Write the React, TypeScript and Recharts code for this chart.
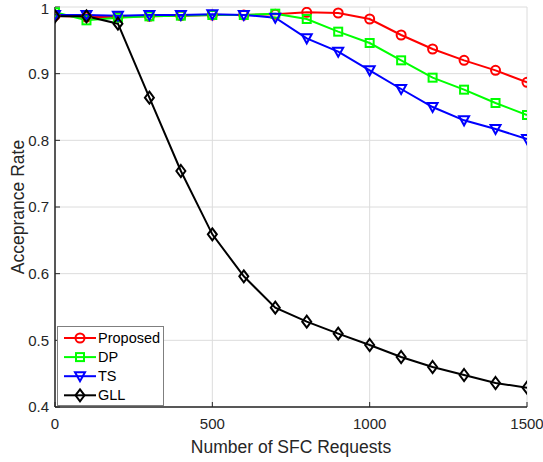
import React from 'react';
import { LineChart, Line, XAxis, YAxis, CartesianGrid, Legend } from 'recharts';

const xValues = [0, 100, 200, 300, 400, 500, 600, 700, 800, 900, 1000, 1100, 1200, 1300, 1400, 1500];
const proposed = [0.987, 0.985, 0.985, 0.986, 0.987, 0.988, 0.988, 0.989, 0.992, 0.991, 0.982, 0.958, 0.937, 0.92, 0.905, 0.887];
const dp = [0.992, 0.98, 0.984, 0.986, 0.987, 0.988, 0.988, 0.99, 0.982, 0.963, 0.946, 0.92, 0.894, 0.876, 0.856, 0.838];
const ts = [0.988, 0.988, 0.987, 0.988, 0.988, 0.989, 0.988, 0.984, 0.953, 0.933, 0.905, 0.877, 0.85, 0.83, 0.817, 0.802];
const gll = [0.986, 0.986, 0.975, 0.864, 0.754, 0.659, 0.596, 0.549, 0.528, 0.51, 0.493, 0.475, 0.46, 0.448, 0.436, 0.429];
const xTicks = [0, 500, 1000, 1500];
const yTicks = [0.4, 0.5, 0.6, 0.7, 0.8, 0.9, 1];

const seriesNames = ['Proposed', 'DP', 'TS', 'GLL'];
const seriesKeys = ['proposed', 'dp', 'ts', 'gll'];
const seriesColors = ['#FF0000', '#00FF00', '#0000FF', '#000000'];
const seriesShapes = ['circle', 'square', 'triangle', 'diamond'];

const data = xValues.map((x, i) => ({ x, proposed: proposed[i], dp: dp[i], ts: ts[i], gll: gll[i] }));

const FONT = '"Liberation Sans", Arial, Helvetica, sans-serif';

function Marker({ shape, cx, cy, color }: { shape: string; cx: number; cy: number; color: string }) {
  const common = { fill: 'none', stroke: color, strokeWidth: 2 };
  if (shape === 'circle') return <circle cx={cx} cy={cy} r={4.5} {...common} />;
  if (shape === 'square') return <rect x={cx - 4} y={cy - 4} width={8} height={8} {...common} />;
  if (shape === 'triangle')
    return <polygon points={`${cx - 5},${cy - 4} ${cx + 5},${cy - 4} ${cx},${cy + 5}`} {...common} />;
  return <polygon points={`${cx},${cy - 6} ${cx + 4.5},${cy} ${cx},${cy + 6} ${cx - 4.5},${cy}`} {...common} />;
}

const makeDot = (shape: string, color: string) => (props: any) => {
  const { cx, cy, index } = props;
  if (cx == null || cy == null) return <g key={index} />;
  return <Marker key={index} shape={shape} cx={cx} cy={cy} color={color} />;
};

function LegendContent() {
  return (
    <div
      style={{
        width: 107,
        height: 80,
        border: '1px solid #7f7f7f',
        background: '#fff',
        boxSizing: 'border-box',
        fontFamily: FONT,
        fontSize: 14,
        color: '#000',
      }}
    >
      <svg width={105} height={78} style={{ display: 'block' }}>
        {seriesNames.map((name, i) => {
          const y = 11 + i * 19.1;
          return (
            <g key={name}>
              <line x1={6} x2={38} y1={y} y2={y} stroke={seriesColors[i]} strokeWidth={2} />
              <Marker shape={seriesShapes[i]} cx={22} cy={y} color={seriesColors[i]} />
              <text x={40} y={y + 5} fontSize={14.5} fontFamily={FONT} fill="#000">
                {name}
              </text>
            </g>
          );
        })}
      </svg>
    </div>
  );
}

export default function App() {
  const tickStyle = { fontSize: 15, fontFamily: FONT, fill: '#262626' };
  return (
    <div style={{ position: 'absolute', left: 0, top: 0, background: '#fff' }}>
      <LineChart width={543} height={462} data={data} margin={{ top: 7, right: 16, bottom: 0, left: 0 }}>
        <CartesianGrid xAxisId="bottom" yAxisId="left" stroke="#dcdcdc" strokeWidth={1} />
        <XAxis
          xAxisId="bottom"
          type="number"
          dataKey="x"
          domain={[0, 1500]}
          ticks={xTicks}
          allowDataOverflow
          height={55}
          tickSize={-5}
          tickMargin={16}
          tick={tickStyle}
          stroke="#262626"
          axisLine={{ stroke: '#262626', strokeWidth: 1.5 }}
          tickLine={{ stroke: '#262626' }}
          label={{ value: 'Number of SFC Requests', position: 'insideBottom', offset: 9, style: { fontSize: 17.5, fontFamily: FONT, fill: '#262626' } }}
        />
        <XAxis
          xAxisId="top"
          orientation="top"
          type="number"
          dataKey="x"
          domain={[0, 1500]}
          ticks={xTicks}
          height={0}
          tickSize={-5}
          tick={false}
          axisLine={{ stroke: '#262626', strokeWidth: 1.5 }}
          tickLine={{ stroke: '#262626' }}
        />
        <YAxis
          yAxisId="left"
          type="number"
          domain={[0.4, 1]}
          ticks={yTicks}
          allowDataOverflow
          width={55}
          tickSize={-5}
          tickMargin={11}
          tick={tickStyle}
          tickFormatter={(v: number) => String(Number(v.toFixed(1)))}
          axisLine={{ stroke: '#262626', strokeWidth: 1.5 }}
          tickLine={{ stroke: '#262626' }}
          label={{ value: 'Acceprance Rate', angle: -90, position: 'insideLeft', offset: 18, style: { textAnchor: 'middle', fontSize: 17.5, fontFamily: FONT, fill: '#262626' } }}
        />
        <YAxis
          yAxisId="right"
          orientation="right"
          type="number"
          domain={[0.4, 1]}
          ticks={yTicks}
          width={0}
          tickSize={-5}
          tick={false}
          axisLine={{ stroke: '#262626', strokeWidth: 1.5 }}
          tickLine={{ stroke: '#262626' }}
        />
        <Legend
          layout="horizontal"
          verticalAlign="middle"
          align="center"
          wrapperStyle={{ position: 'absolute', left: 57, top: 326, width: 107, height: 80 }}
          content={() => <LegendContent />}
        />
        {seriesKeys.map((k, i) => (
          <Line
            key={k}
            xAxisId="bottom"
            yAxisId="left"
            type="linear"
            dataKey={k}
            name={seriesNames[i]}
            stroke={seriesColors[i]}
            strokeWidth={2}
            dot={makeDot(seriesShapes[i], seriesColors[i])}
            activeDot={false}
            isAnimationActive={false}
          />
        ))}
      </LineChart>
    </div>
  );
}
